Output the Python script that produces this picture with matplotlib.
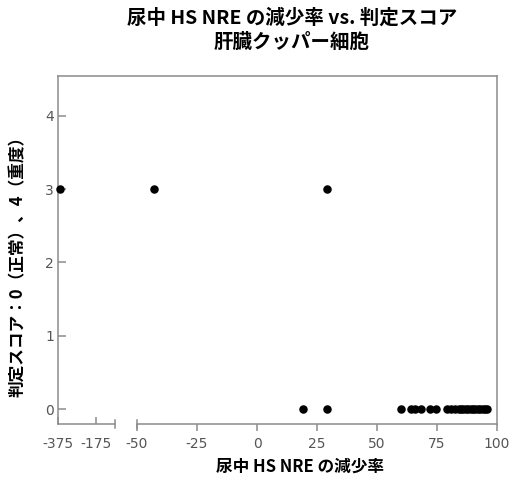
import matplotlib
matplotlib.use("Agg")
from matplotlib import pyplot as plt

plt.rcParams["axes.unicode_minus"] = False

# --- Data ---
score3_x = [-366, -43, 29]
score3_y = [3, 3, 3]
score0_x = [19, 29, 60, 64, 66, 68.5, 72, 74.5, 79, 81, 82.5, 84, 85, 86,
            87, 88, 89, 90, 91, 92, 93, 94, 95, 96]
score0_y = [0] * len(score0_x)

left_ticks = [-375, -175]
right_ticks = [-50, -25, 0, 25, 50, 75, 100]
y_ticks = [0, 1, 2, 3, 4]

title_text = "尿中 HS NRE の減少率 vs. 判定スコア\n肝臓クッパー細胞"
xlabel_text = "尿中 HS NRE の減少率"
ylabel_text = "判定スコア：0（正常）、4（重度）"

# --- Style ---
CJK = ["Noto Sans CJK JP", "DejaVu Sans"]
NUM = ["Liberation Sans Narrow", "DejaVu Sans"]
SPINE = "#8c8c8c"
TICKLBL = "#555555"
LEFT_MAX, RIGHT_MIN = -75, -50

W, H = 515, 486
fig = plt.figure(figsize=(W / 100, H / 100), dpi=100)

y0 = 1 - 424 / H
h = (424 - 76) / H

# frame: top border spanning both segments
frame = fig.add_axes([58 / W, y0, (497 - 58) / W, h])
frame.set_xticks([])
frame.set_yticks([])
for name, sp in frame.spines.items():
    sp.set_visible(name == "top")
    sp.set_color(SPINE)
    sp.set_linewidth(1.1)
frame.patch.set_alpha(0)

axL = fig.add_axes([58 / W, y0, (115 - 58) / W, h])
axR = fig.add_axes([137 / W, y0, (497 - 137) / W, h], sharey=axL)


def split(xs, ys, keep):
    pts = [(x, y) for x, y in zip(xs, ys) if keep(x)]
    return [p[0] for p in pts], [p[1] for p in pts]


for ax, keep in ((axL, lambda x: x <= LEFT_MAX), (axR, lambda x: x >= RIGHT_MIN)):
    ax.patch.set_alpha(0)
    for xs, ys in ((score3_x, score3_y), (score0_x, score0_y)):
        px, py = split(xs, ys, keep)
        ax.scatter(px, py, s=26, color="black", zorder=3, clip_on=False)
    for sp in ax.spines.values():
        sp.set_color(SPINE)
        sp.set_linewidth(1.1)
    ax.spines["top"].set_visible(False)

axL.set_xlim(-375, LEFT_MAX)
axR.set_xlim(RIGHT_MIN, 100)
axL.set_ylim(-0.2, 4.54)

axL.spines["right"].set_visible(False)
axR.spines["left"].set_visible(False)

axL.set_xticks(left_ticks)
axR.set_xticks(right_ticks)
axL.set_yticks(y_ticks)
axL.tick_params(axis="x", direction="in", length=5, color=SPINE, width=1.1,
                labelcolor=TICKLBL, labelsize=10, pad=9)
axL.tick_params(axis="y", direction="in", length=6, color=SPINE, width=1.1,
                labelcolor=TICKLBL, labelsize=10, pad=3)
axR.tick_params(axis="x", direction="out", length=5, color=SPINE, width=1.1,
                labelcolor=TICKLBL, labelsize=10, pad=4)
axR.tick_params(axis="y", left=False, labelleft=False)
for lbl in axL.get_xticklabels() + axL.get_yticklabels() + axR.get_xticklabels():
    lbl.set_family(NUM)

# break caps at the ends of the two x-axis segments
d = 0.012
axL.plot([1, 1], [-d, d], transform=axL.transAxes, color=SPINE, lw=1.1, clip_on=False)
axR.plot([0, 0], [-d, d], transform=axR.transAxes, color=SPINE, lw=1.1, clip_on=False)

fig.text(292 / W, 1 - 8 / H, title_text, ha="center", va="top", fontsize=14,
         fontweight="bold", family=CJK, linespacing=1.35)
fig.text(300 / W, 1 - 467 / H, xlabel_text, ha="center", va="center", fontsize=12,
         fontweight="bold", family=CJK)
fig.text(18 / W, 1 - 262 / H, ylabel_text, ha="center", va="center", fontsize=12,
         fontweight="bold", family=CJK, rotation=90)

fig.savefig("out.png", dpi=100)
